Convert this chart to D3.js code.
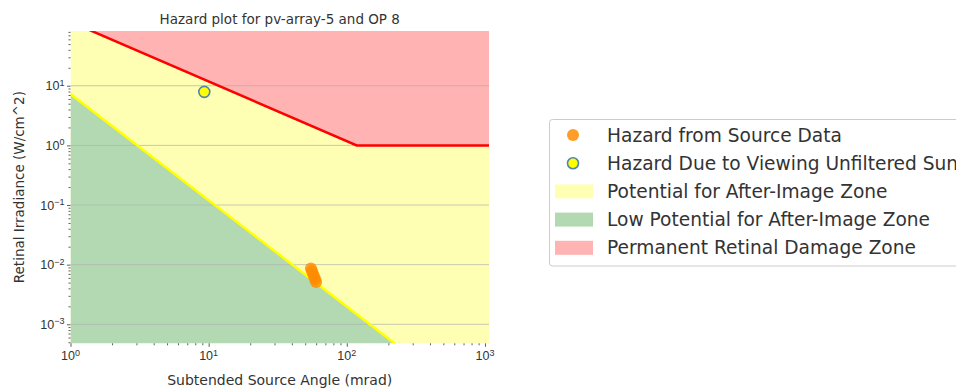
<!DOCTYPE html>
<html>
<head>
<meta charset="utf-8">
<script src="https://cdn.jsdelivr.net/npm/d3@7"></script>
<style>
  html, body { margin: 0; padding: 0; background: #fff; }
  svg { display: block; font-family: "DejaVu Sans", sans-serif; }
</style>
</head>
<body>
<svg id="chart" width="956" height="391"></svg>
<script>
// Observed glare hazard (mrad, W/cm^2)
const sourceAngle = [55, 56, 57, 58, 59, 60];
const sourceIrradiance = [0.0086, 0.0078, 0.0070, 0.0063, 0.0057, 0.0051];

// Unfiltered sun
const sunAngle = [9.3];
const sunIrradiance = [7.9];

// Permanent retinal damage threshold
const burnAngle = [1, 118, 1070];
const burnIrradiance = [118, 1, 1];

// After-image threshold
const afterAngle = [1, 1070];
const afterIrradiance = [7.26, 0.000029];

const xTickValues = [1, 10, 100, 1000];
const yTickValues = [0.001, 0.01, 0.1, 1, 10];

const legendLabels = [
  "Hazard from Source Data",
  "Hazard Due to Viewing Unfiltered Sun",
  "Potential for After-Image Zone",
  "Low Potential for After-Image Zone",
  "Permanent Retinal Damage Zone"
];

const plot = { left: 70.5, right: 489, top: 31, bottom: 343.3 };
const colors = {
  yellowFill: "#ffffb3",
  greenFill: "#b3d9b3",
  redFill: "#ffb3b3",
  redLine: "#ff0000",
  yellowLine: "#ffff00",
  orange: "#ff8c00",
  text: "#333333"
};

const svg = d3.select("#chart");
const x = d3.scaleLog().domain([1, 1070]).range([plot.left, plot.right]);
const y = d3.scaleLog().domain([0.00048, 82.8]).range([plot.bottom, plot.top]);

svg.append("clipPath").attr("id", "plotClip")
  .append("rect")
  .attr("x", plot.left).attr("y", plot.top)
  .attr("width", plot.right - plot.left).attr("height", plot.bottom - plot.top);

const g = svg.append("g").attr("clip-path", "url(#plotClip)");

const burn = burnAngle.map((a, i) => [a, burnIrradiance[i]]);
const after = afterAngle.map((a, i) => [a, afterIrradiance[i]]);
const yTop = 1e4, yBottom = 1e-6;

// Zones
g.append("rect")
  .attr("x", plot.left).attr("y", plot.top)
  .attr("width", plot.right - plot.left).attr("height", plot.bottom - plot.top)
  .attr("fill", colors.yellowFill);

const area = d3.area().x(d => x(d[0])).y1(d => y(d[1]));
g.append("path").datum(burn)
  .attr("d", area.y0(() => y(yTop)))
  .attr("fill", colors.redFill);
g.append("path").datum(after)
  .attr("d", area.y0(() => y(yBottom)))
  .attr("fill", colors.greenFill);

// Horizontal grid
g.selectAll("line.grid").data(yTickValues).join("line")
  .attr("class", "grid")
  .attr("x1", plot.left).attr("x2", plot.right)
  .attr("y1", d => y(d)).attr("y2", d => y(d))
  .attr("stroke", "#b0b0b0").attr("stroke-opacity", 0.7).attr("stroke-width", 1);

const line = d3.line().x(d => x(d[0])).y(d => y(d[1]));
g.append("path").datum(after).attr("d", line)
  .attr("fill", "none").attr("stroke", colors.yellowLine).attr("stroke-width", 2.5);
g.append("path").datum(burn).attr("d", line)
  .attr("fill", "none").attr("stroke", colors.redLine).attr("stroke-width", 2.5);

// Points
g.selectAll("circle.src").data(sourceAngle).join("circle")
  .attr("class", "src")
  .attr("cx", d => x(d)).attr("cy", (d, i) => y(sourceIrradiance[i]))
  .attr("r", 6).attr("fill", colors.orange).attr("fill-opacity", 0.8);

g.selectAll("circle.sun").data(sunAngle).join("circle")
  .attr("class", "sun")
  .attr("cx", d => x(d)).attr("cy", (d, i) => y(sunIrradiance[i]))
  .attr("r", 5.5).attr("fill", "#ffff00")
  .attr("stroke", "#4f86ad").attr("stroke-width", 1.6);

// Axes with log ticks
function supLabel(sel, d) {
  const e = Math.round(Math.log10(d));
  sel.text("");
  sel.append("tspan").text("10");
  sel.append("tspan").attr("dy", "-0.5em").attr("font-size", "0.72em")
    .text(e < 0 ? "\u2212" + (-e) : String(e));
}

function minorTicks(domain) {
  const out = [];
  const lo = Math.floor(Math.log10(domain[0])), hi = Math.ceil(Math.log10(domain[1]));
  for (let p = lo; p <= hi; p++) {
    for (let m = 2; m <= 9; m++) {
      const v = m * Math.pow(10, p);
      if (v >= domain[0] && v <= domain[1]) out.push(v);
    }
  }
  return out;
}

const tickFont = 12.5;
const xAxis = svg.append("g").attr("transform", `translate(0,${plot.bottom})`);
xAxis.call(d3.axisBottom(x).tickValues(xTickValues).tickSize(3.5).tickFormat(""));
xAxis.call(a => a.append("g").call(d3.axisBottom(x).tickValues(minorTicks(x.domain())).tickSize(2).tickFormat("")));
xAxis.selectAll(".domain").remove();
xAxis.selectAll("line").attr("stroke", colors.text).attr("stroke-width", 0.8);
xAxis.selectAll("text.xl").data(xTickValues).join("text")
  .attr("class", "xl")
  .attr("x", d => x(d)).attr("y", 17)
  .attr("text-anchor", "middle").attr("font-size", tickFont).attr("fill", colors.text)
  .each(function(d) { supLabel(d3.select(this), d); });

const yAxis = svg.append("g").attr("transform", `translate(${plot.left},0)`);
yAxis.call(d3.axisLeft(y).tickValues(yTickValues).tickSize(3.5).tickFormat(""));
yAxis.call(a => a.append("g").call(d3.axisLeft(y).tickValues(minorTicks(y.domain())).tickSize(2).tickFormat("")));
yAxis.selectAll(".domain").remove();
yAxis.selectAll("line").attr("stroke", colors.text).attr("stroke-width", 0.8);
yAxis.selectAll("text.yl").data(yTickValues).join("text")
  .attr("class", "yl")
  .attr("x", -6).attr("y", d => y(d) + 4.5)
  .attr("text-anchor", "end").attr("font-size", tickFont).attr("fill", colors.text)
  .each(function(d) { supLabel(d3.select(this), d); });

// Titles
const cx = (plot.left + plot.right) / 2;
svg.append("text").attr("x", cx).attr("y", 23.5)
  .attr("text-anchor", "middle").attr("font-size", 13.5).attr("fill", colors.text)
  .text("Hazard plot for pv-array-5 and OP 8");
svg.append("text").attr("x", cx).attr("y", 385)
  .attr("text-anchor", "middle").attr("font-size", 14).attr("fill", colors.text)
  .text("Subtended Source Angle (mrad)");
svg.append("text")
  .attr("transform", `translate(24,${(plot.top + plot.bottom) / 2}) rotate(-90)`)
  .attr("text-anchor", "middle").attr("font-size", 13.5).attr("fill", colors.text)
  .text("Retinal Irradiance (W/cm^2)");

// Legend
const legend = svg.append("g").attr("transform", "translate(549,119)");
legend.append("rect")
  .attr("x", 0.5).attr("y", 0.5).attr("width", 460).attr("height", 146.5)
  .attr("rx", 3).attr("fill", "#fff").attr("stroke", "#cccccc");

const rowY = i => 16 + i * 28.2;
const rows = legend.selectAll("g.row").data(legendLabels).join("g")
  .attr("class", "row")
  .attr("transform", (d, i) => `translate(0,${rowY(i)})`);

rows.filter((d, i) => i === 0).append("circle")
  .attr("cx", 24).attr("cy", 0).attr("r", 6)
  .attr("fill", colors.orange).attr("fill-opacity", 0.85);
rows.filter((d, i) => i === 1).append("circle")
  .attr("cx", 24).attr("cy", 0).attr("r", 5.5)
  .attr("fill", "#ffff00").attr("stroke", "#4f86ad").attr("stroke-width", 1.6);
const patchFills = [null, null, colors.yellowFill, colors.greenFill, colors.redFill];
rows.filter((d, i) => i >= 2).append("rect")
  .attr("x", 6).attr("y", -7).attr("width", 38).attr("height", 14)
  .attr("fill", (d, i) => patchFills[i + 2]);

rows.append("text")
  .attr("x", 58).attr("y", 6.5)
  .attr("font-size", 18.6).attr("fill", colors.text)
  .text(d => d);
</script>
</body>
</html>
